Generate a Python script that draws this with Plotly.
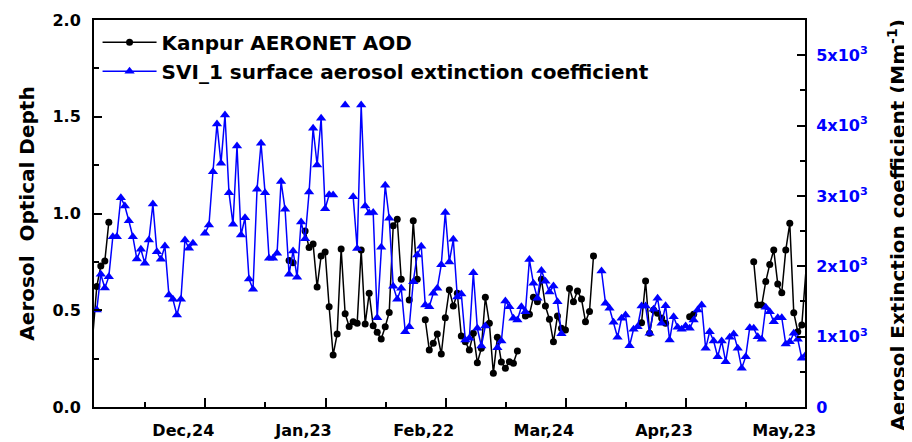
import plotly.graph_objects as go

# -----------------------------------------------------
# Data (day index: 0 = 1 Dec, one value per day, None = no data)
# -----------------------------------------------------

aod_days = list(range(0, 179))
aod_values = (
    [0.37, 0.623, 0.729, 0.754, 0.955]
    + [None] * 44
    + [0.757, 0.745, None, None, 0.910, 0.824, 0.842, 0.620, 0.780, 0.801,
       0.518, 0.269, 0.377, 0.817, 0.482, 0.416, 0.441, 0.433, 0.811, 0.429,
       0.588, 0.420, 0.386, 0.351, 0.415, 0.489, 0.937, 0.970, 0.660, None,
       0.553, 0.962, 0.660, None, 0.451, 0.295, 0.329, 0.377, 0.274, 0.461,
       0.605, 0.522, 0.588, 0.367, 0.337, 0.295, 0.381, 0.229, 0.303, 0.567,
       0.433, 0.174, 0.360, 0.233, 0.200, 0.234, 0.226, 0.289, None, 0.470,
       0.479, 0.567, 0.544, 0.660, 0.522, 0.453, 0.337, 0.470, 0.407, 0.398,
       0.613, 0.544, 0.599, 0.558, 0.441, 0.493, 0.780]
    + [None] * 11
    + [0.436, 0.651, 0.381, 0.501, 0.484, 0.46, 0.433]
    + [None] * 5
    + [0.467, 0.479]
    + [None] * 14
    + [0.751, 0.527, 0.527, 0.648, 0.737, 0.811, 0.636, 0.591, 0.811, 0.949,
       0.487, 0.389, 0.424, 0.694]
)

ext_days = list(range(1, 179))
ext_values = (
    [1379, 1886, 1691, 1852, 2420, 2420, 2975, 2857, 2648, 2420,
     2103, 2241, 2042, 2373, 2885, 2207, 2099, 2288, 1592, 1531,
     1307, 1531, 2373, 2255, 2326, None, None, 2469, 2587, 3344,
     4022, 3463, 4150, 3046, 2597, 3709, 2444, 2690, 1819, 1673,
     3094, 3748, 3046, 2113, 2113, 2184, 3205, 2810, 1887, 2217,
     1843, 2629, 2392, 3056, 3961, 3439, 4103, 2818, 3017, 3013,
     None, None, 4292, None, 2989, 2253, 4292, 2857, 2757, 2764,
     1269, 2271, 3151, 2682, 1715, 1531, 1687, 1070, 1141, 1781,
     2160, 2284, 1450, 1425, 1616, 1687, 2022, 2764, 2061, 2383,
     1563, 1606, 952, 976, 1909, 1118, 867, 1151, None, None,
     843, 938, 1506, 1425, 1261, 1236, 1425, 1354, 2096, 1758,
     1546, 1940, 1786, 1634, 1720, 1497, 1042]
    + [None] * 9
    + [1933, 1474, 1403, 1204, 991, 1261, 1307, 871, 1104, 1141,
       1435, 1435, 1047, 1389, 1545, 1190, 1440, 952, 1283, 1133,
       1104, 1151, 1118, 1236, 1379, 1450, 834, 1070, 938, 715,
       938, 644, 991, 1037, 834, 550, 715, 1127, 1118, 999,
       962, 1417, 1354, 1212, 1269, 1269, 895, 928, 1047, 962,
       692, 739]
)

date_labels = ["Dec,24", "Jan,23", "Feb,22", "Mar,24", "Apr,23", "May,23"]
label_days = [22.6, 52.6, 82.6, 112.6, 142.6, 172.6]
major_tick_days = [28.1, 58.1, 88.1, 118.1, 148.1, 178.1]
minor_tick_days = [13.1, 43.1, 73.1, 103.1, 133.1, 163.1]

ext_ticks = [0, 1000, 2000, 3000, 4000, 5000]
ext_ticktext = ["0", "1x10<sup>3</sup>", "2x10<sup>3</sup>",
                "3x10<sup>3</sup>", "4x10<sup>3</sup>", "5x10<sup>3</sup>"]

# -----------------------------------------------------
# Style
# -----------------------------------------------------

FONT = "DejaVu Sans"
BLUE = "#0000FF"
X_RANGE = [0.3, 177.8]

fig = go.Figure()

fig.add_trace(
    go.Scatter(
        x=aod_days,
        y=aod_values,
        name="Kanpur AERONET AOD",
        mode="lines+markers",
        line=dict(color="black", width=1.5),
        marker=dict(symbol="circle", size=7, color="black"),
        xaxis="x",
        yaxis="y",
        cliponaxis=False,
    )
)

fig.add_trace(
    go.Scatter(
        x=ext_days,
        y=ext_values,
        name="SVI_1 surface aerosol extinction coefficient",
        mode="lines+markers",
        line=dict(color=BLUE, width=1.5),
        marker=dict(symbol="triangle-up", size=9, color=BLUE),
        xaxis="x2",
        yaxis="y2",
    )
)

# Right axis title as a rotated annotation (sits a little below centre)
fig.add_annotation(
    text="Aerosol Extinction coefficient (Mm<sup>-1</sup>)",
    xref="paper",
    yref="paper",
    x=1.129,
    y=0.470,
    xanchor="center",
    yanchor="middle",
    textangle=-90,
    showarrow=False,
    font=dict(family=FONT, size=20, weight="bold", color="black"),
)

# -----------------------------------------------------
# Layout (the page body adds an 8 px margin, so the figure is
# made 8 px smaller to fill the 912x442 window)
# -----------------------------------------------------

axis_line = dict(showline=True, linecolor="black", linewidth=2, zeroline=False,
                 showgrid=False, automargin=False)

fig.update_layout(
    width=904,
    height=434,
    paper_bgcolor="white",
    plot_bgcolor="white",
    margin=dict(l=86, r=107, t=12, b=35),
    font=dict(family=FONT, color="black", size=16, weight="bold"),
    showlegend=True,
    legend=dict(
        x=0.005,
        y=0.993,
        xanchor="left",
        yanchor="top",
        bgcolor="rgba(0,0,0,0)",
        font=dict(family=FONT, size=20, weight="bold", color="black"),
        itemwidth=54,
        tracegroupgap=0,
    ),
    xaxis=dict(
        **axis_line,
        mirror=True,
        range=X_RANGE,
        tickmode="array",
        tickvals=major_tick_days,
        ticktext=[""] * len(major_tick_days),
        ticks="inside",
        ticklen=9,
        tickwidth=2,
        tickcolor="black",
        minor=dict(tickmode="array", tickvals=minor_tick_days, ticks="inside",
                   ticklen=5, tickwidth=2, tickcolor="black"),
    ),
    xaxis2=dict(
        overlaying="x",
        anchor="y",
        side="bottom",
        range=X_RANGE,
        automargin=False,
        showline=False,
        showgrid=False,
        zeroline=False,
        tickmode="array",
        tickvals=label_days,
        ticktext=date_labels,
        ticks="",
        ticklabelstandoff=12,
        tickfont=dict(family=FONT, size=16, weight="bold", color="black"),
    ),
    yaxis=dict(
        **axis_line,
        mirror=True,
        range=[0, 2.0],
        tickmode="array",
        tickvals=[0, 0.5, 1.0, 1.5, 2.0],
        ticktext=["0.0", "0.5", "1.0", "1.5", "2.0"],
        ticks="inside",
        ticklen=8,
        tickwidth=2,
        tickcolor="black",
        ticklabelstandoff=8,
        minor=dict(tickmode="array", tickvals=[0.25, 0.75, 1.25, 1.75],
                   ticks="inside", ticklen=5, tickwidth=2, tickcolor="black"),
        tickfont=dict(family=FONT, size=16, weight="bold", color="black"),
        title=dict(text="Aerosol\u00a0 Optical Depth", standoff=12,
                   font=dict(family=FONT, size=20, weight="bold", color="black")),
    ),
    yaxis2=dict(
        **axis_line,
        overlaying="y",
        anchor="x",
        side="right",
        range=[0, 5500],
        tickmode="array",
        tickvals=ext_ticks,
        ticktext=ext_ticktext,
        ticks="inside",
        ticklen=8,
        tickwidth=2,
        tickcolor="black",
        ticklabelstandoff=6,
        minor=dict(tickmode="array", tickvals=[500, 1500, 2500, 3500, 4500],
                   ticks="inside", ticklen=5, tickwidth=2, tickcolor="black"),
        tickfont=dict(family=FONT, size=16, weight="bold", color=BLUE),
    ),
)

fig.write_html("out.html")
